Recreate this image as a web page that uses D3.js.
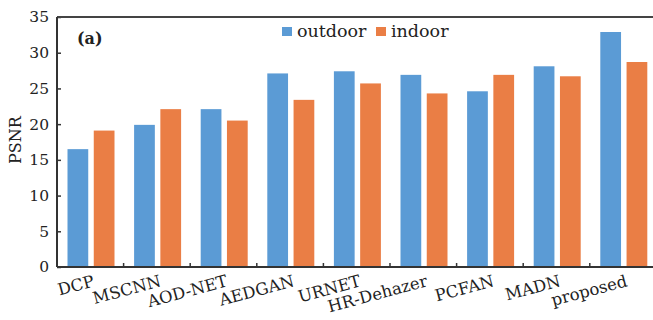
<!DOCTYPE html>
<html><head><meta charset="utf-8">
<script src="https://cdn.jsdelivr.net/npm/d3@7"></script>
<style>body{margin:0;background:#fff;} svg{display:block;}</style>
</head><body>
<script>
const categories = ["DCP","MSCNN","AOD-NET","AEDGAN","URNET","HR-Dehazer","PCFAN","MADN","proposed"];
const outdoor = [16.5,19.9,22.1,27.1,27.4,26.9,24.6,28.1,32.9];
const indoor  = [19.1,22.1,20.5,23.4,25.7,24.3,26.9,26.7,28.7];
const seriesNames = ["outdoor","indoor"];
const yTicks = [0,5,10,15,20,25,30,35];

const W=653,H=320;
const mLeft=57, mTop=17, mBottom=267, mRight=656.4;
const colors = {outdoor:"#5b9bd5", indoor:"#ea7e45"};
const font = "'DejaVu Serif', serif";

const svg=d3.select("body").append("svg").attr("width",W).attr("height",H);
const x=d3.scaleBand().domain(categories).range([mLeft,mRight]).padding(0);
const xs=d3.scaleBand().domain(seriesNames).range([10.5,57.5]).paddingInner(0.21).paddingOuter(0);
const y=d3.scaleLinear().domain([0,35]).range([mBottom,mTop]);

const data = categories.map((c,i)=>({c, outdoor:outdoor[i], indoor:indoor[i]}));
const g=svg.append("g");
data.forEach(d=>{
  seriesNames.forEach(s=>{
    g.append("rect")
      .attr("x",x(d.c)+xs(s)).attr("width",xs.bandwidth())
      .attr("y",y(d[s])).attr("height",y(0)-y(d[s]))
      .attr("fill",colors[s]);
  });
});

// y axis
const yAxis=svg.append("g").attr("transform",`translate(${mLeft},0)`)
  .call(d3.axisLeft(y).tickValues(yTicks).tickSize(-4).tickPadding(8));
yAxis.select(".domain").remove();
yAxis.selectAll("text").attr("font-family",font).attr("font-size",15.5).attr("fill","#222");
yAxis.selectAll("line").attr("stroke","#333").attr("stroke-width",1.5);

// x boundary ticks
const bounds = categories.slice(1).map(c=>x(c));
svg.selectAll(".xt").data(bounds).enter().append("line")
  .attr("x1",d=>d).attr("x2",d=>d).attr("y1",mBottom).attr("y2",mBottom-4)
  .attr("stroke","#333").attr("stroke-width",1.5);

// frame lines
svg.append("line").attr("x1",mLeft).attr("x2",W).attr("y1",mTop).attr("y2",mTop).attr("stroke","#444").attr("stroke-width",2);
svg.append("line").attr("x1",mLeft).attr("x2",W).attr("y1",mBottom).attr("y2",mBottom).attr("stroke","#333").attr("stroke-width",2);
svg.append("line").attr("x1",mLeft).attr("x2",mLeft).attr("y1",mTop).attr("y2",mBottom).attr("stroke","#333").attr("stroke-width",2);

// x labels
svg.selectAll(".xl").data(categories).enter().append("text")
  .attr("transform",d=>`translate(${x(d)+x.bandwidth()/2+5},286) rotate(-15)`)
  .attr("text-anchor","end").attr("font-family",font).attr("font-size",16.5).attr("fill","#222")
  .text(d=>d);

// y label
svg.append("text").attr("transform","translate(21,140) rotate(-90)")
  .attr("text-anchor","middle").attr("font-family",font).attr("font-size",16).attr("fill","#222").text("PSNR");

// (a)
svg.append("text").attr("x",77).attr("y",44).attr("font-family",font).attr("font-weight","bold")
  .attr("font-size",16).attr("fill","#222").text("(a)");

// legend
const legX=[282,376];
seriesNames.forEach((s,i)=>{
  svg.append("rect").attr("x",legX[i]).attr("y",27).attr("width",10).attr("height",9).attr("fill",colors[s]);
  svg.append("text").attr("x",legX[i]+15).attr("y",37).attr("font-family",font).attr("font-size",17.5)
    .attr("fill","#222").text(s);
});
</script>
</body></html>
